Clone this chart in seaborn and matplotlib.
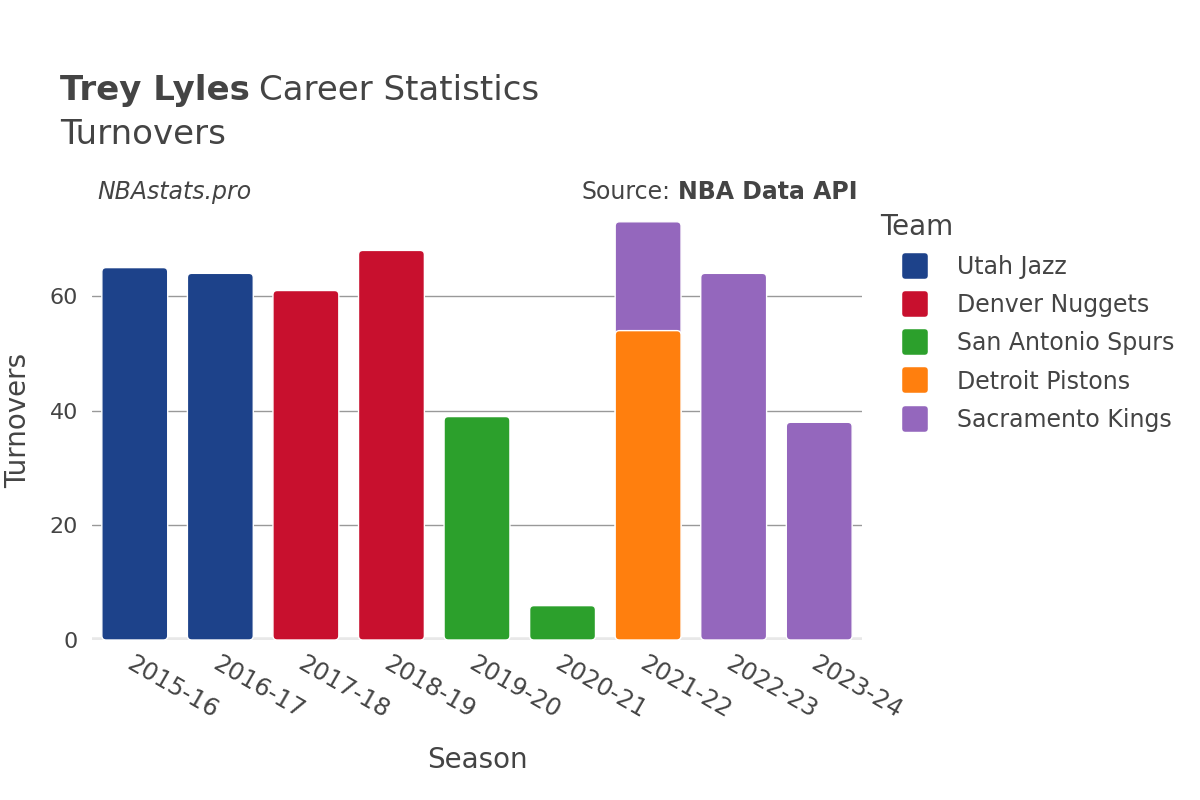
import numpy as np
import pandas as pd
import matplotlib.pyplot as plt
import seaborn as sns
from matplotlib.patches import FancyBboxPatch
from matplotlib.lines import Line2D
from matplotlib.markers import MarkerStyle

sns.set_theme(style="white")
plt.rcParams['font.family'] = ['DejaVu Sans']

# data
seasons = ['2015-16', '2016-17', '2017-18', '2018-19', '2019-20',
           '2020-21', '2021-22', '2022-23', '2023-24']
teams = ['Utah Jazz', 'Utah Jazz', 'Denver Nuggets', 'Denver Nuggets',
         'San Antonio Spurs', 'San Antonio Spurs', 'Detroit Pistons',
         'Sacramento Kings', 'Sacramento Kings']
turnovers = [65, 64, 61, 68, 39, 6, 54, 64, 38]
# second segment stacked on top of the 2021-22 bar
extra_seasons = ['2021-22']
extra_teams = ['Sacramento Kings']
extra_turnovers = [19]

team_order = ['Utah Jazz', 'Denver Nuggets', 'San Antonio Spurs',
              'Detroit Pistons', 'Sacramento Kings']
team_colors = ['#1D428A', '#C8102E', '#2CA02C', '#FF7F0E', '#9467BD']
palette = dict(zip(team_order, team_colors))

df_base = pd.DataFrame({'Season': seasons, 'Team': teams, 'Turnovers': turnovers})
df_top = pd.DataFrame({'Season': extra_seasons, 'Team': extra_teams, 'Turnovers': extra_turnovers})
# top segments are drawn at cumulative height, then base covers the lower part
base_lookup = dict(zip(seasons, turnovers))
df_top['Cum'] = [base_lookup[s] + v for s, v in zip(df_top['Season'], df_top['Turnovers'])]

text_col = '#444444'
W, H = 1200, 800

fig = plt.figure(figsize=(12, 8), dpi=100)
ax = fig.add_axes([92 / W, 0.2, 770 / W, 0.55])

sns.barplot(data=df_top, x='Season', y='Cum', hue='Team', palette=palette,
            order=seasons, hue_order=team_order, dodge=False, width=0.77,
            saturation=1, edgecolor='white', linewidth=1, legend=False, ax=ax)
sns.barplot(data=df_base, x='Season', y='Turnovers', hue='Team', palette=palette,
            order=seasons, hue_order=team_order, dodge=False, width=0.77,
            saturation=1, edgecolor='white', linewidth=1, legend=False, ax=ax)

ymax = 76.8
ax.set_xlim(-0.5, 8.5)
ax.set_ylim(0, ymax)

# swap plain rectangles for rounded ones
fig.canvas.draw()
bbox = ax.get_window_extent()
aspect = (bbox.width / 9.0) / (bbox.height / ymax)
rects = [p for p in ax.patches if p.get_height() > 0]
for p in list(ax.patches):
    p.remove()
for p in rects:
    fb = FancyBboxPatch((p.get_x(), p.get_y()), p.get_width(), p.get_height(),
                        boxstyle="round,pad=0,rounding_size=0.05",
                        mutation_aspect=aspect,
                        facecolor=p.get_facecolor(), edgecolor='white',
                        linewidth=1, zorder=2)
    ax.add_patch(fb)

ax.set_yticks([0, 20, 40, 60])
for yv in [20, 40, 60]:
    ax.axhline(yv, color='#999999', lw=1, zorder=0)
ax.axhline(0, color='#e8e8e8', lw=4, zorder=1)
for s in ax.spines.values():
    s.set_visible(False)
ax.tick_params(axis='both', length=0, colors=text_col)
ax.tick_params(axis='y', pad=10, labelsize=16)
ax.set_xticks(range(len(seasons)))
ax.set_xticklabels(seasons, rotation=-30, ha='left', rotation_mode='anchor')
ax.tick_params(axis='x', pad=8, labelsize=17.5)
ax.set_xlabel('Season', fontsize=20, color=text_col)
ax.set_ylabel('Turnovers', fontsize=20, color=text_col)
ax.xaxis.set_label_coords((477 - 92) / 770, -(760 - 640) / 440, transform=ax.transAxes)
ax.yaxis.set_label_coords((18 - 92) / 770, (640 - 420) / 440, transform=ax.transAxes)
ax.xaxis.label.set_va('center')
ax.yaxis.label.set_va('center')

# titles
renderer = fig.canvas.get_renderer()
t1 = fig.text(60 / W, 1 - 100 / H, 'Trey Lyles', fontsize=24.5, fontweight='bold',
              color=text_col, va='baseline')
w1 = t1.get_window_extent(renderer).width
fig.text((60 + w1 + 9) / W, 1 - 100 / H, 'Career Statistics', fontsize=24.5,
         color=text_col, va='baseline')
fig.text(60 / W, 1 - 144 / H, 'Turnovers', fontsize=24.5, color=text_col, va='baseline')
fig.text(97 / W, 1 - 199 / H, 'NBAstats.pro', fontsize=17, style='italic',
         color=text_col, va='baseline')
t2 = fig.text(858 / W, 1 - 199 / H, 'NBA Data API', fontsize=17, fontweight='bold',
              color=text_col, va='baseline', ha='right')
w2 = t2.get_window_extent(renderer).width
fig.text((858 - w2 - 8) / W, 1 - 199 / H, 'Source:', fontsize=17, color=text_col,
         va='baseline', ha='right')

# legend
mk = MarkerStyle('s', joinstyle='round')
handles = [Line2D([0], [0], marker=mk, linestyle='', markersize=14, markeredgewidth=4,
                  markerfacecolor=c, markeredgecolor=c) for c in team_colors]
leg = fig.legend(handles, team_order, title='Team', loc='upper left',
                 bbox_to_anchor=(880 / W, 1 - 213 / H), frameon=False, fontsize=17,
                 title_fontsize=20, labelspacing=0.6, handletextpad=0.25,
                 handlelength=3.0, borderaxespad=0, borderpad=0)
leg._legend_box.align = 'left'
for t in leg.get_texts():
    t.set_color(text_col)
leg.get_title().set_color(text_col)

fig.savefig('out.png', dpi=100)
